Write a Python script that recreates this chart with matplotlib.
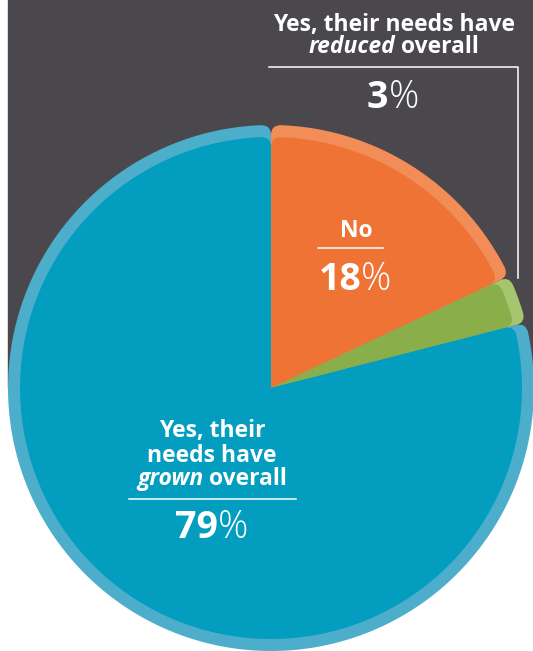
import numpy as np
import matplotlib.pyplot as plt
from matplotlib.path import Path
from matplotlib.patches import PathPatch, Rectangle

# Survey answers, clockwise from 12 o'clock
answers = ["No", "Yes, their needs have reduced overall", "Yes, their needs have grown overall"]
shares = [18, 3, 79]
face_colors = ["#ef7335", "#8aae4a", "#029dbf"]
rim_colors = ["#f28d58", "#a6c56f", "#4caecb"]

W, H = 533, 651
BG_DARK = "#4a484c"
FONT = "Open Sans"

fig = plt.figure(figsize=(W / 100, H / 100), dpi=100)
ax = fig.add_axes([0, 0, 1, 1])
ax.set_xlim(0, W)
ax.set_ylim(H, 0)
ax.axis("off")

ax.add_patch(Rectangle((8, 0), W - 8, 388, color=BG_DARK, zorder=0))

cx, cy, R = 271, 388, 263
rim, corner = 12, 10


def rounded_wedge(theta1, theta2, r, c):
    """Wedge from theta1 down to theta2 (degrees, clockwise) with rounded outer corners."""
    t1, t2 = np.radians(theta1), np.radians(theta2)
    d = c / r

    def pt(t, rad):
        return (cx + rad * np.cos(t), cy - rad * np.sin(t))

    verts = [(cx, cy), pt(t1, r - c), pt(t1, r), pt(t1 - d, r)]
    codes = [Path.MOVETO, Path.LINETO, Path.CURVE3, Path.CURVE3]
    for t in np.linspace(t1 - d, t2 + d, 200)[1:]:
        verts.append(pt(t, r))
        codes.append(Path.LINETO)
    verts += [pt(t2, r), pt(t2, r - c), (cx, cy)]
    codes += [Path.CURVE3, Path.CURVE3, Path.CLOSEPOLY]
    return Path(verts, codes)


start = 90.0
for share, face, edge in zip(shares, face_colors, rim_colors):
    end = start - share / sum(shares) * 360
    ax.add_patch(PathPatch(rounded_wedge(start, end, R, corner), fc=edge, ec="none", zorder=2))
    ax.add_patch(PathPatch(rounded_wedge(start, end, R - rim, corner), fc=face, ec="none", zorder=3))
    start = end

renderer = fig.canvas.get_renderer()


def text_line(x_mid, y_base, pieces, size):
    """Draw a line of (text, style, weight) pieces centred on x_mid."""
    items = []
    for s, style, weight in pieces:
        t = ax.text(0, y_base, s, fontsize=size, family=FONT, style=style,
                    weight=weight, color="white", ha="left", va="baseline", zorder=5)
        items.append(t)
    widths = [t.get_window_extent(renderer).width for t in items]
    x = x_mid - sum(widths) / 2
    for t, w in zip(items, widths):
        t.set_x(x)
        x += w


lab = 16.5
num = 27

# reduced
text_line(394, 30.5, [("Yes, their needs have", "normal", "bold")], lab)
text_line(394, 53, [("reduced", "italic", "bold"), (" overall", "normal", "bold")], lab)
text_line(393, 108, [(f"{shares[1]}", "normal", "bold"), ("%", "normal", "light")], num)
ax.plot([269, 518, 518], [67, 67, 278], color="white", lw=1.1, zorder=5)

# no
text_line(356, 237, [("No", "normal", "bold")], lab)
text_line(355, 290, [(f"{shares[0]}", "normal", "bold"), ("%", "normal", "light")], num)
ax.plot([318, 383], [248, 248], color="white", lw=1.1, zorder=5)

# grown
text_line(212, 437, [("Yes, their", "normal", "bold")], lab)
text_line(212, 461.5, [("needs have", "normal", "bold")], lab)
text_line(212, 485, [("grown", "italic", "bold"), (" overall", "normal", "bold")], lab)
text_line(212, 538, [(f"{shares[2]}", "normal", "bold"), ("%", "normal", "light")], num)
ax.plot([129, 296], [499, 499], color="white", lw=1.1, zorder=5)

fig.savefig("out.png", dpi=100, facecolor="white")
